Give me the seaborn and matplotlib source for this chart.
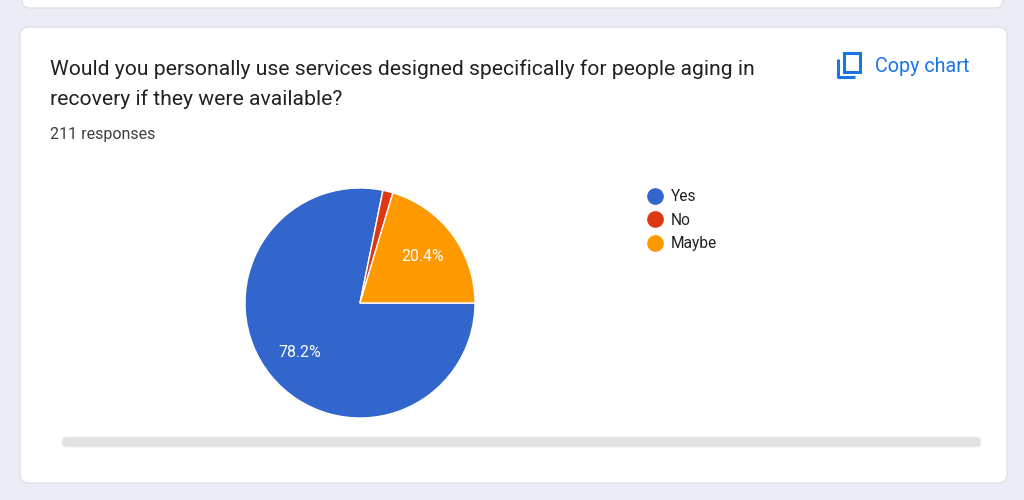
import matplotlib
matplotlib.use("Agg")
import matplotlib.pyplot as plt
import seaborn as sns
from matplotlib.patches import FancyBboxPatch, Rectangle
from matplotlib.lines import Line2D

# ---- data ----
categories = ["Yes", "No", "Maybe"]
counts = [165, 3, 43]
title_lines = ["Would you personally use services designed specifically for people aging in",
               "recovery if they were available?"]
responses_text = "211 responses"
colors = ["#3366cc", "#dc3912", "#ff9900"]

sns.set_theme(style="white")
plt.rcParams['font.family'] = ['Roboto', 'DejaVu Sans']

W, H = 1024, 500
fig = plt.figure(figsize=(W / 100, H / 100), dpi=100)
fig.patch.set_facecolor("#ebedf6")

bg = fig.add_axes([0, 0, 1, 1])
bg.set_xlim(0, W)
bg.set_ylim(H, 0)
bg.axis("off")

# top (previous) card, only its bottom visible
bg.add_patch(FancyBboxPatch((22, -30), 981, 38, boxstyle="round,pad=0,rounding_size=8",
                            facecolor="white", edgecolor="#dadce0", linewidth=0.8))
# main card
bg.add_patch(FancyBboxPatch((20, 27), 987, 456, boxstyle="round,pad=0,rounding_size=9",
                            facecolor="white", edgecolor="#dadce0", linewidth=0.8))
# scrollbar
bg.add_patch(FancyBboxPatch((62, 437), 919, 10, boxstyle="round,pad=0,rounding_size=5",
                            facecolor="#e0e2df", edgecolor="#eeeeee", linewidth=0.6))

# title and sub
for i, line in enumerate(title_lines):
    bg.text(50, 75 + 30 * i, line, fontsize=15.2, color="#202124", va="baseline", ha="left")
bg.text(50, 139, responses_text, fontsize=11.5, color="#3c4043", va="baseline", ha="left")

# copy chart button
bg.text(875, 72, "Copy chart", fontsize=14.2, color="#1a73e8", va="baseline", ha="left")
bg.add_patch(Rectangle((843.5, 53), 16, 19, facecolor="none", edgecolor="#1a73e8", linewidth=2.2))
bg.plot([838, 838, 855], [59, 77, 77], color="#1a73e8", linewidth=2.2, solid_capstyle="butt")

# pie
cx, cy, r = 360, 303, 115
pax = fig.add_axes([(cx - r) / W, (H - cy - r) / H, 2 * r / W, 2 * r / H])
wedges, texts, autotexts = pax.pie(
    counts, colors=colors, startangle=0, counterclock=False,
    autopct=lambda p: f"{p:.1f}%" if p > 5 else "",
    pctdistance=0.68, radius=1.0,
    wedgeprops=dict(edgecolor="white", linewidth=1),
    textprops=dict(color="white", fontsize=11.4))
pax.set_xlim(-1, 1)
pax.set_ylim(-1, 1)
pax.set_aspect("equal")
pax.axis("off")

# legend
handles = [Line2D([0], [0], marker="o", linestyle="none", markersize=11,
                  markerfacecolor=c, markeredgecolor=c) for c in colors]
fig.legend(handles, categories, loc="upper left", bbox_to_anchor=(647 / W, 1 - 189 / H),
           frameon=False, fontsize=11.2, handletextpad=0.55, labelspacing=0.55,
           handlelength=1.0, borderaxespad=0, borderpad=0, labelcolor="#222222")

fig.savefig("out.png", dpi=100, facecolor=fig.get_facecolor())
